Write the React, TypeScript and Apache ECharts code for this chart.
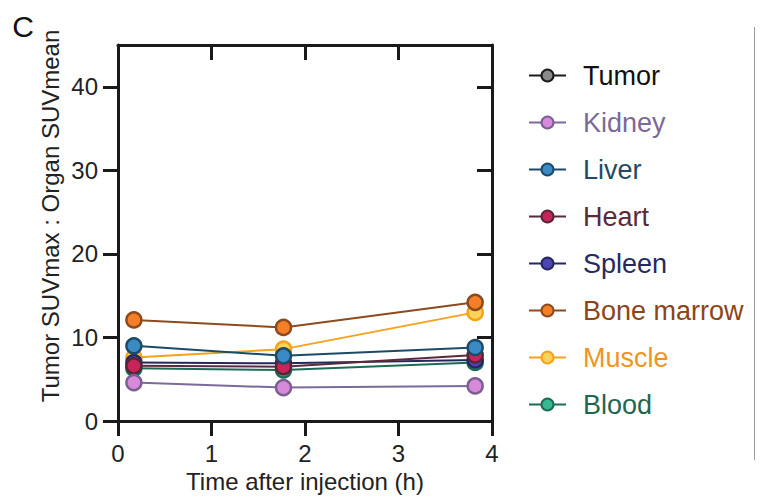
import React, { useEffect, useRef } from "react";
import * as echarts from "echarts";

const times = [0.17, 1.77, 3.82];
const seriesNames = ["Tumor", "Kidney", "Liver", "Heart", "Spleen", "Bone marrow", "Muscle", "Blood"];
const tumor: number[] = [];
const kidney = [4.6, 4.0, 4.2];
const liver = [9.0, 7.8, 8.8];
const heart = [6.6, 6.5, 7.9];
const spleen = [7.0, 6.9, 7.3];
const boneMarrow = [12.1, 11.2, 14.2];
const muscle = [7.6, 8.6, 13.0];
const blood = [6.3, 6.1, 7.0];
const yTicks = [0, 10, 20, 30, 40];
const xTicks = [0, 1, 2, 3, 4];

const values = [tumor, kidney, liver, heart, spleen, boneMarrow, muscle, blood];
const fills = ["#8a8a8a", "#d68ad9", "#3a8ac6", "#c8245a", "#4b46b4", "#f47f27", "#ffd25a", "#35b894"];
const edges = ["#1a1a1a", "#7b5f93", "#1d4a66", "#5a2438", "#25285e", "#8c4a1e", "#f5a21b", "#1d6a55"];
const lines = ["#1a1a1a", "#7b6a9a", "#1d4a66", "#5a2a3a", "#25285e", "#8c4a1e", "#f5a21b", "#1d6a55"];
const textColors = ["#111111", "#7a6a99", "#1f4a66", "#5a2a38", "#252a60", "#8b4516", "#f0941f", "#1f6650"];

const FONT = "Liberation Sans, Arial, Helvetica, sans-serif";

export default function App() {
  const ref = useRef<HTMLDivElement>(null);
  useEffect(() => {
    if (!ref.current) return;
    const chart = echarts.init(ref.current, undefined, { renderer: "svg" });
    const axisLine = { show: true, onZero: false, lineStyle: { color: "#1a1a1a", width: 3 } };
    const option: any = {
      animation: false,
      backgroundColor: "#ffffff",
      grid: { left: 118, right: 268, top: 45, bottom: 79, containLabel: false },
      xAxis: [
        {
          type: "value",
          min: 0,
          max: 4,
          interval: 1,
          position: "bottom",
          axisLine,
          axisTick: { show: true, length: 15, lineStyle: { width: 3, color: "#1a1a1a" } },
          axisLabel: {
            fontSize: 24,
            color: "#222",
            fontFamily: FONT,
            margin: 20,
            formatter: (v: number) => (xTicks.includes(v) ? String(v) : ""),
          },
          splitLine: { show: false },
          name: "Time after injection (h)",
          nameLocation: "middle",
          nameGap: 48,
          nameTextStyle: { fontSize: 24, color: "#222", fontFamily: FONT },
        },
        {
          type: "value",
          min: 0,
          max: 4,
          interval: 1,
          position: "top",
          axisLine,
          axisTick: { show: true, inside: true, length: 15, lineStyle: { width: 3, color: "#1a1a1a" } },
          axisLabel: { show: false },
          splitLine: { show: false },
        },
      ],
      yAxis: [
        {
          type: "value",
          min: 0,
          max: 45,
          position: "left",
          axisLine,
          axisTick: { show: true, length: 15, customValues: yTicks, lineStyle: { width: 3, color: "#1a1a1a" } },
          axisLabel: {
            fontSize: 24,
            color: "#222",
            fontFamily: FONT,
            margin: 20,
            customValues: yTicks,
          },
          splitLine: { show: false },
        },
        {
          type: "value",
          min: 0,
          max: 45,
          position: "right",
          axisLine,
          axisTick: { show: true, inside: true, length: 15, customValues: yTicks, lineStyle: { width: 3, color: "#1a1a1a" } },
          axisLabel: { show: false, customValues: yTicks },
          splitLine: { show: false },
        },
      ],
      legend: {
        orient: "vertical",
        left: 523,
        top: 57,
        itemWidth: 37,
        itemHeight: 15,
        itemGap: 20,
        textStyle: { fontSize: 27, fontFamily: FONT, lineHeight: 26, padding: [0, 0, 0, 12] },
        data: seriesNames.map((n, i) => ({ name: n, textStyle: { color: textColors[i] } })),
      },
      graphic: [
        {
          type: "text",
          x: 23,
          y: 26,
          style: { text: "C", fontSize: 30, fontFamily: FONT, fill: "#111", align: "center", verticalAlign: "middle" },
        },
        {
          type: "text",
          x: 50,
          y: 216,
          rotation: Math.PI / 2,
          style: {
            text: "Tumor SUVmax : Organ SUVmean",
            fontSize: 24,
            fontFamily: FONT,
            fill: "#222",
            align: "center",
            verticalAlign: "middle",
          },
        },
        {
          type: "line",
          shape: { x1: 754.5, y1: 27, x2: 754.5, y2: 460 },
          style: { stroke: "#9a9a9a", lineWidth: 1 },
        },
      ],
      series: seriesNames.map((n, i) => ({
        name: n,
        type: "line",
        xAxisIndex: 0,
        yAxisIndex: 0,
        z: 10 - i,
        data: values[i].map((v, j) => [times[j], v]),
        symbol: "circle",
        symbolSize: 15,
        lineStyle: { color: lines[i], width: 2 },
        itemStyle: { color: fills[i], borderColor: edges[i], borderWidth: 2.5 },
      })),
    };
    chart.setOption(option);
    return () => chart.dispose();
  }, []);
  return (
    <div
      ref={ref}
      style={{ position: "fixed", left: 0, top: 0, width: 760, height: 500, background: "#fff" }}
    />
  );
}
